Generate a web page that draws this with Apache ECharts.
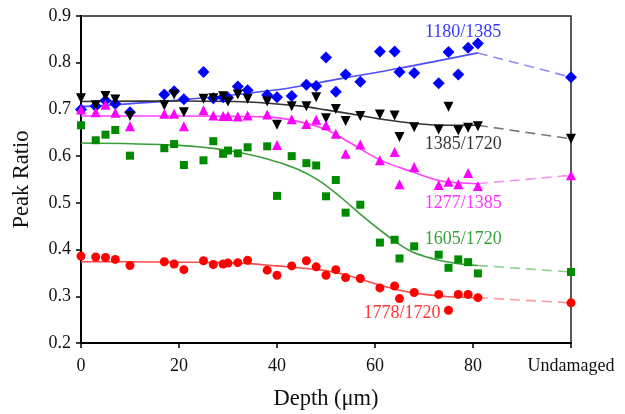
<!DOCTYPE html>
<html>
<head>
<meta charset="utf-8">
<script src="https://cdn.jsdelivr.net/npm/echarts@6/dist/echarts.min.js"></script>
<style>
  html, body { margin: 0; padding: 0; background: #fff; }
  #chart { width: 625px; height: 414px; }
</style>
</head>
<body>
<div id="chart"></div>
<script>
var depths = [0, 3, 5, 7, 10, 17, 19, 21, 25, 27, 29, 30, 32, 34, 38, 40, 43, 46, 48, 50, 52, 54, 57, 61, 64, 65, 68, 73, 75, 77, 79, 81];
var undamagedX = 100;
var xTicks = [0, 20, 40, 60, 80, 'Undamaged'];

// measured peak ratios at each depth
var r1180 = [0.700, 0.707, 0.719, 0.712, 0.694, 0.732, 0.739, 0.722, 0.780, 0.724, 0.726, 0.725, 0.749, 0.741, 0.731, 0.726, 0.729, 0.753, 0.750, 0.811, 0.738, 0.775, 0.759, 0.824, 0.824, 0.780, 0.778, 0.756, 0.823, 0.775, 0.832, 0.841];
var r1385 = [0.724, 0.709, 0.729, 0.721, 0.686, 0.709, 0.732, 0.694, 0.723, 0.724, 0.728, 0.717, 0.732, 0.723, 0.717, 0.667, 0.707, 0.707, 0.726, 0.681, 0.701, 0.675, 0.686, 0.689, 0.687, 0.641, 0.662, 0.657, 0.706, 0.655, 0.661, 0.664];
var r1277 = [0.700, 0.694, 0.710, 0.693, 0.664, 0.691, 0.691, 0.664, 0.698, 0.687, 0.686, 0.686, 0.685, 0.687, 0.689, 0.624, 0.679, 0.669, 0.678, 0.666, 0.648, 0.605, 0.625, 0.591, 0.609, 0.540, 0.577, 0.538, 0.545, 0.540, 0.564, 0.536];
var r1605 = [0.666, 0.634, 0.646, 0.656, 0.601, 0.617, 0.626, 0.581, 0.591, 0.632, 0.605, 0.612, 0.606, 0.619, 0.621, 0.515, 0.600, 0.585, 0.580, 0.514, 0.549, 0.479, 0.496, 0.415, 0.421, 0.381, 0.407, 0.389, 0.361, 0.379, 0.373, 0.349];
var r1778 = [0.386, 0.384, 0.383, 0.379, 0.366, 0.374, 0.369, 0.357, 0.376, 0.368, 0.369, 0.371, 0.372, 0.377, 0.356, 0.345, 0.365, 0.376, 0.363, 0.345, 0.357, 0.340, 0.338, 0.318, 0.322, 0.295, 0.308, 0.304, 0.270, 0.304, 0.304, 0.297];

// undamaged reference values
var und = { r1180: 0.769, r1385: 0.637, r1277: 0.559, r1605: 0.352, r1778: 0.286 };

// fitted curves
var fit1180 = [[0, 0.706], [20, 0.720], [40, 0.742], [53, 0.766], [65, 0.788], [81, 0.821]];
var fit1385 = [[0, 0.717], [20, 0.718], [34, 0.716], [45, 0.707], [50, 0.699], [57, 0.687], [62, 0.678], [68, 0.670], [75, 0.666], [81, 0.666]];
var fit1277 = [[0, 0.686], [20, 0.686], [38, 0.684], [44, 0.675], [50, 0.657], [55, 0.628], [61, 0.592], [68, 0.565], [73, 0.548], [77, 0.543], [81, 0.541]];
var fit1605 = [[0, 0.628], [20, 0.623], [30, 0.612], [38, 0.594], [44, 0.573], [48.5, 0.548], [53, 0.512], [57, 0.476], [61, 0.442], [65, 0.411], [68, 0.393], [73, 0.377], [77, 0.370], [81, 0.366]];
var fit1778 = [[0, 0.374], [10, 0.374], [20, 0.373], [30, 0.372], [40, 0.365], [50, 0.355], [55, 0.343], [60, 0.327], [65, 0.313], [70, 0.304], [75, 0.299], [81, 0.297]];

var FONT = "'Liberation Serif', 'Times New Roman', serif";

function pts(vals, u) {
  var out = depths.map(function (d, i) { return [d, vals[i]]; });
  out.push([undamagedX, u]);
  return out;
}
function tail(fit, u) {
  return [fit[fit.length - 1], [undamagedX, u]];
}

var groups = [
  { name: '1180/1385', vals: r1180, u: und.r1180, fit: fit1180, symbol: 'diamond', size: 12, color: '#0000ff', line: '#4d4dff', dash: '#8c8cff', lab: [78, 0.866] },
  { name: '1385/1720', vals: r1385, u: und.r1385, fit: fit1385, symbol: 'triangle', rotate: 180, size: 10, color: '#000000', line: '#333333', dash: '#777777', lab: [78, 0.626] },
  { name: '1277/1385', vals: r1277, u: und.r1277, fit: fit1277, symbol: 'triangle', size: 10, color: '#ff00ff', line: '#ff40ff', dash: '#ff8cff', lab: [78, 0.500] },
  { name: '1605/1720', vals: r1605, u: und.r1605, fit: fit1605, symbol: 'rect', size: 8, color: '#008a00', line: '#3a9e3a', dash: '#8ccf8c', lab: [78, 0.422] },
  { name: '1778/1720', vals: r1778, u: und.r1778, fit: fit1778, symbol: 'circle', size: 9, color: '#ff0000', line: '#ff4a4a', dash: '#ff9a9a', lab: [65.5, 0.264] }
];

var series = [];
groups.forEach(function (g) {
  series.push({
    type: 'line', data: g.fit, smooth: 0.35, symbol: 'none', z: 2,
    lineStyle: { color: g.line, width: 1.6 }
  });
  series.push({
    type: 'line', data: tail(g.fit, g.u), symbol: 'none', z: 2,
    lineStyle: { color: g.dash, width: 1.6, type: [10, 6] }
  });
  series.push({
    type: 'scatter', name: g.name, data: pts(g.vals, g.u), clip: false, z: 3,
    symbol: g.symbol, symbolSize: g.size, symbolRotate: g.rotate || 0,
    itemStyle: { color: g.color, opacity: 1 }
  });
  series.push({
    type: 'scatter', data: [g.lab], symbolSize: 0, silent: true, z: 4,
    label: {
      show: true, position: 'inside', formatter: g.name,
      color: g.color, fontFamily: FONT, fontSize: 18
    }
  });
});

var chart = echarts.init(document.getElementById('chart'));
chart.setOption({
  animation: false,
  grid: {
    left: 81, right: 54, top: 16, bottom: 71,
    outerBoundsMode: 'none', containLabel: false,
    show: true, borderColor: '#222', borderWidth: 1.5, backgroundColor: 'transparent'
  },
  xAxis: {
    type: 'value', min: 0, max: 100, interval: 20,
    name: 'Depth (\u03bcm)', nameLocation: 'middle', nameGap: 45,
    nameTextStyle: { fontFamily: FONT, fontSize: 22.5, color: '#111' },
    axisLine: { lineStyle: { color: '#000', width: 2 } },
    axisTick: { length: 5, lineStyle: { color: '#000', width: 1.5 } },
    splitLine: { show: false },
    axisLabel: {
      margin: 14, fontFamily: FONT, fontSize: 18, color: '#111',
      formatter: function (v) { return xTicks[Math.round(v / 20)]; }
    }
  },
  yAxis: {
    type: 'value', min: 0.2, max: 0.9, interval: 0.1,
    name: 'Peak Ratio', nameLocation: 'middle', nameGap: 47,
    nameTextStyle: { fontFamily: FONT, fontSize: 22.5, color: '#111' },
    axisLine: { show: true, lineStyle: { color: '#000', width: 2 } },
    axisTick: { show: true, length: 5, lineStyle: { color: '#000', width: 1.5 } },
    splitLine: { show: false },
    axisLabel: {
      margin: 10, fontFamily: FONT, fontSize: 18, color: '#111',
      formatter: function (v) { return v.toFixed(1); }
    }
  },
  series: series
});
</script>
</body>
</html>
